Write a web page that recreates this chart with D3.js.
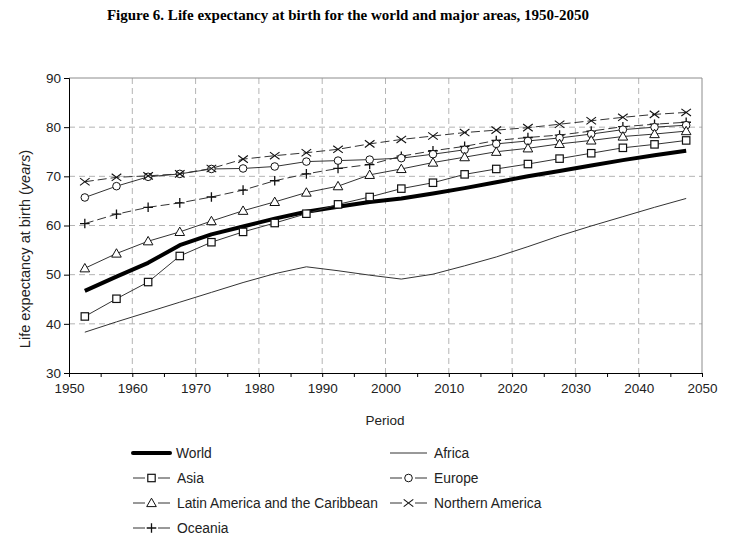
<!DOCTYPE html>
<html><head><meta charset="utf-8">
<script src="https://cdn.jsdelivr.net/npm/d3@7/dist/d3.min.js"></script>
<style>body{margin:0;background:#fff}svg{display:block}</style>
</head><body>
<script>
const years = [1952.5,1957.5,1962.5,1967.5,1972.5,1977.5,1982.5,1987.5,1992.5,1997.5,2002.5,2007.5,2012.5,2017.5,2022.5,2027.5,2032.5,2037.5,2042.5,2047.5];
const world    = [46.7,49.6,52.4,56.0,58.2,59.8,61.4,62.8,63.8,64.8,65.5,66.5,67.6,68.8,70.0,71.1,72.2,73.3,74.3,75.2];
const africa   = [38.3,40.4,42.4,44.4,46.4,48.4,50.2,51.6,50.8,49.9,49.1,50.1,51.8,53.6,55.7,57.9,59.9,61.8,63.7,65.5];
const asia     = [41.5,45.1,48.5,53.8,56.6,58.7,60.5,62.4,64.3,65.8,67.5,68.7,70.4,71.5,72.5,73.6,74.7,75.8,76.5,77.3];
const europe   = [65.7,68.0,69.9,70.5,71.5,71.6,72.0,73.0,73.2,73.4,73.7,74.5,75.4,76.6,77.2,77.8,78.6,79.5,80.0,80.4];
const latinAm  = [51.3,54.3,56.8,58.7,60.9,63.0,64.8,66.7,68.0,70.3,71.5,72.8,73.9,75.0,75.7,76.6,77.3,78.1,78.6,79.2];
const northAm  = [68.9,69.8,70.1,70.5,71.6,73.5,74.2,74.8,75.5,76.6,77.5,78.2,78.9,79.4,79.9,80.6,81.3,82.0,82.6,83.0];
const oceania  = [60.4,62.3,63.7,64.6,65.8,67.2,69.1,70.5,71.6,72.4,74.1,75.2,76.1,77.3,77.9,78.4,79.2,80.1,80.6,81.0];
const xTicks = [1950,1960,1970,1980,1990,2000,2010,2020,2030,2040,2050];
const yTicks = [30,40,50,60,70,80,90];

const series = [
  {name:"World", values:world, marker:null, width:4, dash:null, color:"#000"},
  {name:"Africa", values:africa, marker:null, width:1, dash:null, color:"#333"},
  {name:"Asia", values:asia, marker:"square", width:1, dash:null, color:"#333"},
  {name:"Europe", values:europe, marker:"circle", width:1, dash:null, color:"#333"},
  {name:"Latin America and the Caribbean", values:latinAm, marker:"triangle", width:1, dash:null, color:"#333"},
  {name:"Northern America", values:northAm, marker:"x", width:1, dash:"9,4", color:"#333"},
  {name:"Oceania", values:oceania, marker:"plus", width:1, dash:"9,4", color:"#333"}
];

const W=730,H=539;
const svg=d3.select("body").append("svg").attr("width",W).attr("height",H);
const L=69,R=702,T=78,B=373;
const x=d3.scaleLinear().domain([1950,2050]).range([L,R]);
const y=d3.scaleLinear().domain([30,90]).range([B,T]);
const sans="Liberation Sans, Arial, sans-serif";

svg.append("text").attr("x",348).attr("y",20).attr("text-anchor","middle")
  .attr("font-family","Liberation Serif, Times New Roman, serif").attr("font-weight","bold")
  .attr("font-size",15).text("Figure 6. Life expectancy at birth for the world and major areas, 1950-2050");

// grid
const g=svg.append("g");
g.selectAll(".vg").data(xTicks.slice(1,-1)).enter().append("line")
  .attr("x1",d=>x(d)).attr("x2",d=>x(d)).attr("y1",T).attr("y2",B)
  .attr("stroke","#b4b4b4").attr("stroke-dasharray","6,4");
g.selectAll(".hg").data(yTicks.slice(1,-1)).enter().append("line")
  .attr("y1",d=>y(d)).attr("y2",d=>y(d)).attr("x1",L).attr("x2",R)
  .attr("stroke","#b4b4b4").attr("stroke-dasharray","6,4");
// border
svg.append("path").attr("d",`M${L},${T}H${R}V${B}`).attr("fill","none").attr("stroke","#8c8c8c");

// axes
const xAxis=d3.axisBottom(x).tickValues(d3.range(1950,2051,5)).tickSize(4).tickFormat(d=>d%10===0?d:"");
const xa=svg.append("g").attr("transform",`translate(0,${B})`).call(xAxis);
xa.select(".domain").attr("stroke","#000");
xa.selectAll("text").attr("font-family",sans).attr("font-size",13.5).attr("fill","#222").attr("dy","0.95em");
const yAxis=d3.axisLeft(y).tickValues(yTicks).tickSize(5);
const ya=svg.append("g").attr("transform",`translate(${L},0)`).call(yAxis);
ya.select(".domain").attr("stroke","#000");
ya.selectAll("text").attr("font-family",sans).attr("font-size",13.5).attr("fill","#222").attr("x",-8);

svg.append("text").attr("x",385).attr("y",425).attr("text-anchor","middle")
  .attr("font-family",sans).attr("font-size",13.5).attr("fill","#222").text("Period");
const yl=svg.append("text").attr("transform","translate(30,249) rotate(-90)").attr("text-anchor","middle")
  .attr("font-family",sans).attr("font-size",14.5).attr("fill","#222");
yl.append("tspan").text("Life expectancy at birth (");
yl.append("tspan").attr("font-style","italic").text("years");
yl.append("tspan").text(")");

function drawMarker(sel,type,cx,cy){
  const s=sel.append("g").attr("transform",`translate(${cx},${cy})`);
  if(type==="square") s.append("rect").attr("x",-3.7).attr("y",-3.7).attr("width",7.4).attr("height",7.4).attr("fill","#fff").attr("stroke","#111").attr("stroke-width",1.2);
  else if(type==="circle") s.append("circle").attr("r",3.8).attr("fill","#fff").attr("stroke","#111").attr("stroke-width",1);
  else if(type==="triangle") s.append("path").attr("d","M0,-4.8L4.8,3.6L-4.8,3.6Z").attr("fill","#fff").attr("stroke","#111").attr("stroke-width",1);
  else if(type==="x") s.append("path").attr("d","M-4.8,-3.6L4.8,3.6M-4.8,3.6L4.8,-3.6").attr("stroke","#111").attr("stroke-width",1.1);
  else if(type==="plus") s.append("path").attr("d","M-4.8,0H4.8M0,-4.8V4.8").attr("stroke","#111").attr("stroke-width",1.3);
}

const line=d3.line().x((d,i)=>x(years[i])).y(d=>y(d));
const order=[1,0,2,6,3,4,5];
order.forEach(k=>{
  const s=series[k];
  svg.append("path").attr("d",line(s.values)).attr("fill","none")
    .attr("stroke",s.color).attr("stroke-width",s.width).attr("stroke-dasharray",s.dash)
    .attr("stroke-linejoin","round");
  if(s.marker){
    const mg=svg.append("g");
    s.values.forEach((v,i)=>drawMarker(mg,s.marker,x(years[i]),y(v)));
  }
});

// legend
const leg=[{s:0,x:133,y:453},{s:1,x:390,y:453},{s:2,x:133,y:478},{s:3,x:390,y:478},{s:4,x:133,y:503},{s:5,x:390,y:503},{s:6,x:133,y:528}];
leg.forEach(o=>{
  const s=series[o.s];
  svg.append("line").attr("x1",o.x).attr("x2",o.x+37).attr("y1",o.y).attr("y2",o.y)
    .attr("stroke",s.color).attr("stroke-width",s.width).attr("stroke-linecap",s.width>2?"round":"butt");
  if(s.marker){
    svg.append("rect").attr("x",o.x+12).attr("y",o.y-5).attr("width",13).attr("height",10).attr("fill","#fff");
    drawMarker(svg,s.marker,o.x+18.5,o.y);
  }
  svg.append("text").attr("x",o.x+(s.width>2?43:44)).attr("y",o.y+5).attr("font-family",sans)
    .attr("font-size",13.8).attr("fill","#222").text(s.name);
});
</script>
</body></html>
